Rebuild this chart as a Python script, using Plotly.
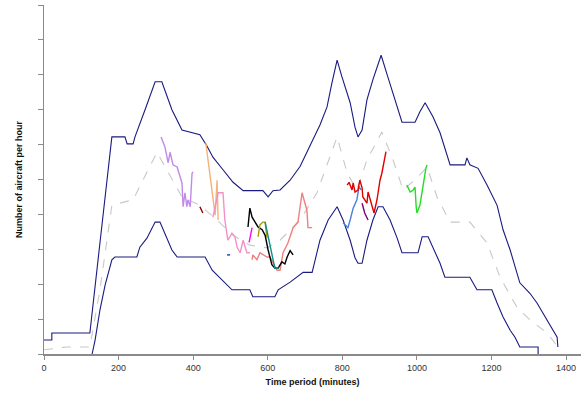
import plotly.graph_objects as go

# ---- data (time in minutes, aircraft per hour) ----
upper_t = [0, 21, 21, 123, 150, 182, 217, 223, 239, 244, 271, 298, 316, 343, 370, 418, 437, 453, 480, 507,
           534, 587, 601, 614, 633, 660, 687, 705, 721, 740, 759, 772, 786, 799, 821, 834, 842, 853, 866, 882,
           904, 922, 941, 960, 995, 1008, 1022, 1043, 1062, 1089, 1129, 1134, 1142, 1164, 1188, 1215, 1231,
           1250, 1276, 1303, 1322, 1349, 1376, 1378]
upper_v = [2.0, 2.0, 3.0, 3.0, 15.9, 31.1, 31.1, 30.1, 30.1, 31.1, 35.0, 39.0, 39.0, 35.0, 32.1, 31.4, 29.8,
           28.2, 26.4, 24.6, 23.4, 23.4, 22.5, 23.4, 23.5, 24.9, 26.9, 28.8, 30.7, 32.8, 35.4, 38.8, 42.1, 39.7,
           36.0, 32.5, 31.1, 32.1, 36.4, 39.3, 42.8, 39.7, 36.4, 33.2, 33.2, 34.7, 36.0, 34.0, 31.7, 27.1, 27.1,
           28.1, 27.1, 26.6, 24.2, 21.3, 17.8, 14.9, 10.2, 8.7, 7.3, 4.9, 2.4, 1.0]

lower_t = [129, 137, 150, 164, 182, 190, 249, 257, 276, 298, 311, 324, 343, 357, 432, 451, 485, 504, 552, 560,
           619, 628, 660, 695, 719, 740, 762, 786, 802, 821, 834, 842, 853, 866, 882, 896, 909, 928, 947, 960,
           1003, 1014, 1030, 1043, 1062, 1075, 1142, 1161, 1201, 1215, 1231, 1250, 1263, 1276, 1325, 1325]
lower_v = [0.0, 2.0, 6.3, 9.9, 13.5, 13.9, 13.9, 15.3, 16.6, 18.9, 18.9, 17.3, 14.9, 13.9, 13.9, 12.0, 10.3,
           9.2, 9.2, 8.2, 8.2, 9.2, 10.3, 11.7, 11.7, 16.3, 19.2, 21.1, 19.2, 16.3, 13.8, 13.0, 13.0, 16.3, 19.2,
           21.1, 21.1, 19.2, 16.6, 14.5, 14.5, 16.8, 16.8, 15.3, 13.0, 11.0, 11.0, 9.2, 9.2, 7.3, 5.3, 3.4, 2.4,
           1.0, 1.0, 0.0]

mean_t = [0, 62, 123, 150, 182, 239, 303, 370, 418, 464, 507, 552, 598, 633, 687, 732, 786, 813, 839, 866,
          906, 936, 963, 1000, 1027, 1054, 1089, 1142, 1188, 1223, 1268, 1303, 1349, 1384]
mean_v = [0.6, 1.0, 1.0, 9.2, 21.3, 22.1, 28.9, 22.5, 21.3, 19.2, 17.0, 15.6, 15.2, 16.3, 19.2, 23.1, 31.1,
          25.9, 23.5, 27.8, 31.8, 27.8, 23.5, 25.2, 26.8, 22.5, 18.9, 18.9, 15.9, 11.0, 6.7, 4.9, 3.0, 0.6]

# observed individual days (short segments)
lav_t = [314, 324, 333, 338, 346, 357, 370, 373, 378, 383, 386, 392, 397, 400]
lav_v = [31.1, 29.7, 27.4, 28.9, 27.1, 26.8, 24.5, 21.1, 23.1, 21.1, 22.1, 21.1, 25.9, 26.1]
dred_t = [418, 426]
dred_v = [21.1, 20.2]
orange_t = [434, 459, 464, 467]
orange_v = [30.2, 19.9, 24.9, 19.2]
pink_t = [453, 467, 480, 485, 493, 504, 512, 518, 526, 534, 544, 552]
pink_v = [19.6, 23.1, 23.1, 19.2, 16.3, 17.3, 16.8, 15.3, 14.5, 16.3, 14.5, 14.5]
salmon_t = [558, 560, 571, 579, 598, 606, 625, 633, 641, 654, 668, 681, 692, 705, 708, 719]
salmon_v = [13.5, 14.2, 13.5, 14.5, 13.9, 13.9, 12.0, 12.0, 14.5, 15.9, 18.1, 18.9, 23.1, 20.6, 18.1, 18.1]
blue_dash_t = [491, 499]
blue_dash_v = [14.2, 14.2]
black_t = [547, 552, 558, 566, 574, 585, 593, 601, 611, 619, 628, 638, 646, 652, 660, 668]
black_v = [18.2, 20.9, 19.6, 18.8, 18.2, 17.8, 17.0, 14.9, 12.8, 12.3, 12.3, 13.2, 12.9, 13.9, 14.8, 14.2]
magenta_t = [550, 558]
magenta_v = [16.0, 18.1]
olive_t = [574, 579, 587, 593, 598]
olive_v = [16.8, 18.5, 18.9, 18.9, 16.6]
teal_t = [593, 606, 619, 630]
teal_v = [18.9, 15.6, 12.3, 12.3]
cblue_t = [802, 815, 821, 829, 839, 845, 850]
cblue_v = [18.8, 18.1, 19.2, 20.9, 22.1, 24.0, 23.5]
red_t = [813, 818, 826, 829, 834, 842, 847, 853, 855, 866, 869, 880, 885, 893, 901, 906, 912, 917]
red_v = [24.2, 24.6, 23.5, 24.5, 23.2, 23.5, 24.9, 23.8, 22.5, 21.6, 23.2, 21.3, 20.2, 22.1, 24.9, 25.9, 27.4, 29.0]
purple_t = [853, 860, 869]
purple_v = [21.6, 20.2, 19.2]
green_t = [973, 982, 990, 995, 998, 1000, 1008, 1016, 1019, 1024, 1027]
green_v = [24.2, 23.2, 23.5, 23.9, 21.1, 20.2, 21.3, 23.9, 25.4, 26.6, 27.1]

x_ticks = [0, 200, 400, 600, 800, 1000, 1200, 1400]

fig = go.Figure()

def add(t, v, color, width=1.2, dash=None):
    fig.add_trace(go.Scatter(x=t, y=v, mode="lines",
                             line=dict(color=color, width=width, dash=dash),
                             hoverinfo="skip", showlegend=False, cliponaxis=False))

add(mean_t, mean_v, "#c8c8c8", 1.1, "dash")
add(upper_t, upper_v, "#1a1a80", 1.1)
add(lower_t, lower_v, "#1a1a80", 1.1)
add(lav_t, lav_v, "#c08ae8", 1.4)
add(dred_t, dred_v, "#8b0000", 1.4)
add(orange_t, orange_v, "#f5b27a", 1.4)
add(pink_t, pink_v, "#f490c8", 1.4)
add(salmon_t, salmon_v, "#f08080", 1.4)
add(blue_dash_t, blue_dash_v, "#2030c0", 1.4)
add(black_t, black_v, "#000000", 1.4)
add(magenta_t, magenta_v, "#ff00ff", 1.4)
add(olive_t, olive_v, "#a0a000", 1.4)
add(teal_t, teal_v, "#10908a", 1.4)
add(cblue_t, cblue_v, "#4a7fe0", 1.4)
add(red_t, red_v, "#e00000", 1.4)
add(purple_t, purple_v, "#800080", 1.4)
add(green_t, green_v, "#22dd22", 1.4)

fig.update_layout(
    width=585, height=394,
    margin=dict(l=44, r=4, t=5, b=40),
    paper_bgcolor="white", plot_bgcolor="white",
    font=dict(family="Liberation Sans, Arial, sans-serif", size=9, color="#222222"),
    xaxis=dict(range=[0, 1440], tickvals=x_ticks, ticktext=[str(v) for v in x_ticks],
               automargin=False,
               showgrid=False, zeroline=False, showline=True, linecolor="#8a8a8a", linewidth=2,
               ticks="outside", ticklen=4, tickcolor="#8a8a8a", tickfont=dict(size=9, color="#333333"),
               title=dict(text="<b>Time period (minutes)</b>", font=dict(size=9, color="#111111"), standoff=7)),
    yaxis=dict(range=[0, 50], dtick=5, showticklabels=False, automargin=False,
               showgrid=False, zeroline=False, showline=True, linecolor="#8a8a8a", linewidth=1,
               ticks="outside", ticklen=5, tickcolor="#8a8a8a",
               title=dict(text="<b>Number of aircraft per hour</b>", font=dict(size=9, color="#111111"), standoff=13)),
)

fig.write_html("out.html", config={"displayModeBar": False},
               post_script="document.body.style.margin='0';document.body.style.overflow='hidden';")
